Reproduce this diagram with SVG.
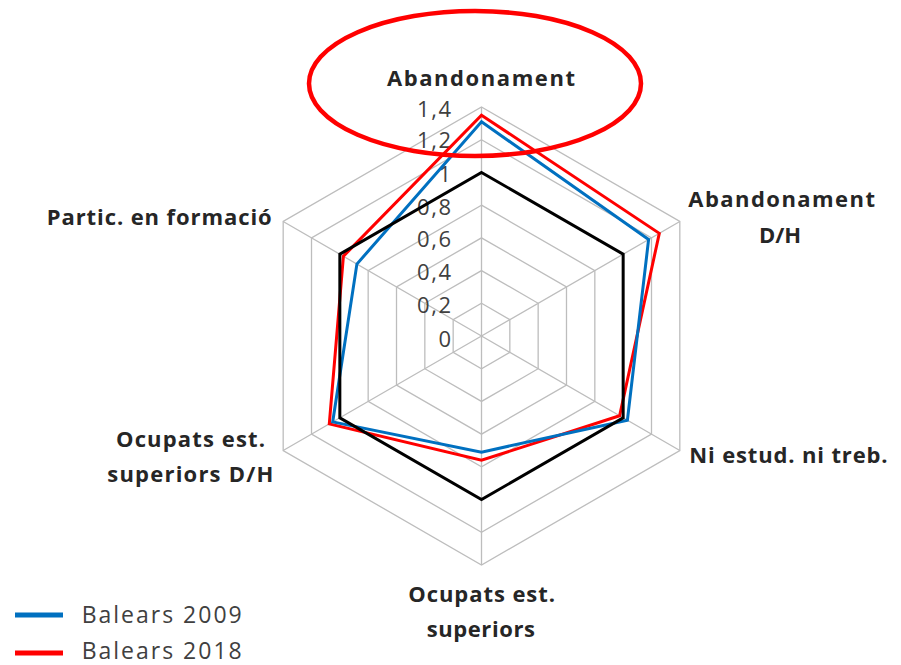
<svg xmlns="http://www.w3.org/2000/svg" width="901" height="665" viewBox="0 0 901 665">
<style>
.grid{fill:none;stroke:#bdbdbd;stroke-width:1.3}
.ser{fill:none;stroke-width:3;stroke-linejoin:miter}
.lbl{font-family:"Open Sans","Liberation Sans",sans-serif;font-weight:bold;font-size:22px;fill:#262626}
.tick{font-family:"Open Sans","Liberation Sans",sans-serif;font-size:22px;fill:#404040;text-anchor:end}
.leg{font-family:"Open Sans","Liberation Sans",sans-serif;font-size:23px;fill:#404040}
</style>
<rect width="901" height="665" fill="#ffffff"/>
<g id="grid" class="grid">
<polygon points="481.5,303.29 509.83,319.64 509.83,352.36 481.5,368.71 453.17,352.36 453.17,319.64"/>
<polygon points="481.5,270.57 538.16,303.29 538.16,368.71 481.5,401.43 424.84,368.71 424.84,303.29"/>
<polygon points="481.5,237.86 566.49,286.93 566.49,385.07 481.5,434.14 396.51,385.07 396.51,286.93"/>
<polygon points="481.5,205.14 594.83,270.57 594.83,401.43 481.5,466.86 368.17,401.43 368.17,270.57"/>
<polygon points="481.5,172.43 623.16,254.21 623.16,417.79 481.5,499.57 339.84,417.79 339.84,254.21"/>
<polygon points="481.5,139.71 651.49,237.86 651.49,434.14 481.5,532.29 311.51,434.14 311.51,237.86"/>
<polygon points="481.5,107 679.82,221.5 679.82,450.5 481.5,565 283.18,450.5 283.18,221.5"/>
<path d="M481.5,336 L481.5,107 M481.5,336 L679.82,221.5 M481.5,336 L679.82,450.5 M481.5,336 L481.5,565 M481.5,336 L283.18,450.5 M481.5,336 L283.18,221.5"/>
</g>
<g id="scale">
<text class="tick" x="451" y="116.7" textLength="34">1,4</text>
<text class="tick" x="451" y="148.3" textLength="34">1,2</text>
<text class="tick" x="451" y="181.7">1</text>
<text class="tick" x="451" y="215" textLength="34">0,8</text>
<text class="tick" x="451" y="246.7" textLength="34">0,6</text>
<text class="tick" x="451" y="280" textLength="34">0,4</text>
<text class="tick" x="451" y="313.3" textLength="34">0,2</text>
<text class="tick" x="451" y="346.7">0</text>
</g>
<g id="series">
<polygon id="balears2018" class="ser" stroke="#ff0000" points="481.5,115.2 659.3,233.35 619.6,415.75 481.5,460.3 329.3,423.9 343.4,256.25"/>
<polygon id="balears2009" class="ser" stroke="#0070c0" points="481.5,121.7 648.6,239.5 627.4,420.25 481.5,452.1 332.7,421.9 356.9,264.05"/>
<polygon id="reference" class="ser" stroke="#000000" points="481.5,172.43 623.16,254.21 623.16,417.79 481.5,499.57 339.84,417.79 339.84,254.21"/>
</g>
<g id="labels" class="lbl">
<text id="lbl-abandonament" x="387" y="86" textLength="188" lengthAdjust="spacing">Abandonament</text>
<text id="lbl-abandonament-dh" x="688.3" y="206.7" textLength="186.7" lengthAdjust="spacing">Abandonament</text>
<text x="780" y="242.7" text-anchor="middle">D/H</text>
<text id="lbl-ni" x="689.3" y="463.3" textLength="198.3" lengthAdjust="spacing">Ni estud. ni treb.</text>
<text id="lbl-ocup" x="408.3" y="601.7" textLength="146.7" lengthAdjust="spacing">Ocupats est.</text>
<text x="426.7" y="636.7" textLength="108.3" lengthAdjust="spacing">superiors</text>
<text id="lbl-ocup-dh" x="116" y="446.7" textLength="149" lengthAdjust="spacing">Ocupats est.</text>
<text x="107.3" y="481.7" textLength="166" lengthAdjust="spacing">superiors D/H</text>
<text id="lbl-partic" x="46.7" y="225" textLength="225" lengthAdjust="spacing">Partic. en formació</text>
</g>
<g id="legend">
<line x1="15" y1="615" x2="63" y2="615" stroke="#0070c0" stroke-width="5"/>
<line x1="15" y1="653" x2="63" y2="653" stroke="#ff0000" stroke-width="5"/>
<text class="leg" x="81.7" y="622.7" textLength="160" lengthAdjust="spacing">Balears 2009</text>
<text class="leg" x="81.7" y="658.5" textLength="160" lengthAdjust="spacing">Balears 2018</text>
</g>
<g id="highlight">
<ellipse cx="475" cy="83.5" rx="166" ry="72.5" fill="none" stroke="#ff0000" stroke-width="4.5"/>
</g>
</svg>
